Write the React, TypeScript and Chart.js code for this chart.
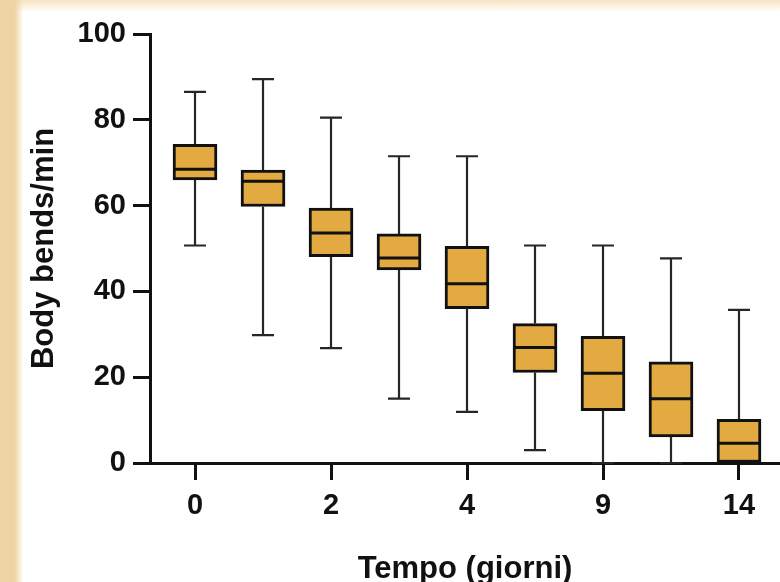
import React, { useEffect, useRef } from 'react';
import { Chart, registerables } from 'chart.js';

Chart.register(...registerables);

// Box positions along the x axis (one per time group)
const boxPositions = [0, 1, 2, 3, 4, 5, 6, 7, 8];
const whiskerMax = [86.5, 89.5, 80.5, 71.5, 71.5, 50.7, 50.7, 47.7, 35.7];
const q3 = [74.3, 68.3, 59.4, 53.4, 50.5, 32.5, 29.5, 23.6, 10.2];
const median = [68.5, 65.7, 53.6, 47.8, 41.8, 26.9, 20.9, 15.0, 4.6];
const q1 = [66.0, 59.8, 48.1, 45.0, 36.0, 21.1, 12.2, 6.1, 0];
const whiskerMin = [50.7, 29.8, 26.8, 15.0, 11.9, 3.0, 0, 0, 0];

// Labelled x ticks
const tickPositions = [0, 2, 4, 6, 8];
const tickLabels = ['0', '2', '4', '9', '14'];

const yTitle = 'Body bends/min';
const xTitle = 'Tempo (giorni)';

const FONT = "'Liberation Sans', Arial, Helvetica, sans-serif";
const BOX_FILL = '#e3aa41';
const INK = '#111111';

const boxPlugin = {
  id: 'boxWhiskers',
  afterDatasetsDraw(chart: any) {
    const { ctx, scales } = chart;
    const x = scales.x;
    const y = scales.y;
    ctx.save();
    boxPositions.forEach((p, i) => {
      const cx = x.getPixelForValue(p);
      const cap = 11;
      const half = 22;
      const yTop = y.getPixelForValue(whiskerMax[i]);
      const yQ3 = y.getPixelForValue(q3[i]);
      const yQ1 = y.getPixelForValue(q1[i]);
      const yBot = y.getPixelForValue(whiskerMin[i]);
      const yMed = y.getPixelForValue(median[i]);
      ctx.strokeStyle = '#262626';
      ctx.lineWidth = 2.2;
      ctx.lineCap = 'butt';
      ctx.beginPath();
      ctx.moveTo(cx, yQ3);
      ctx.lineTo(cx, yTop);
      ctx.moveTo(cx - cap, yTop);
      ctx.lineTo(cx + cap, yTop);
      if (whiskerMin[i] < q1[i]) {
        ctx.moveTo(cx, yQ1);
        ctx.lineTo(cx, yBot);
        ctx.moveTo(cx - cap, yBot);
        ctx.lineTo(cx + cap, yBot);
      }
      ctx.stroke();
      ctx.strokeStyle = INK;
      ctx.lineWidth = 3;
      ctx.beginPath();
      ctx.moveTo(cx - half + 1.5, yMed);
      ctx.lineTo(cx + half - 1.5, yMed);
      ctx.stroke();
    });
    ctx.restore();
  },
};

export default function App() {
  const canvasRef = useRef<HTMLCanvasElement | null>(null);

  useEffect(() => {
    if (!canvasRef.current) return;
    const chart = new Chart(canvasRef.current, {
      type: 'bar',
      data: {
        datasets: [
          {
            data: boxPositions.map((p, i) => ({ x: p, y: [q1[i], q3[i]] })) as any,
            backgroundColor: BOX_FILL,
            borderColor: INK,
            borderWidth: 3,
            borderSkipped: false,
            barThickness: 44,
          } as any,
        ],
      },
      options: {
        animation: false,
        responsive: false,
        indexAxis: 'x',
        layout: { padding: { top: 34, left: 0, right: 0, bottom: 0 } },
        plugins: {
          legend: { display: false },
          tooltip: { enabled: false },
        },
        scales: {
          x: {
            type: 'linear',
            min: -0.662,
            max: 8.603,
            offset: false,
            afterBuildTicks: (scale: any) => {
              scale.ticks = tickPositions.map((v) => ({ value: v }));
            },
            afterFit: (scale: any) => {
              scale.height = 119;
            },
            ticks: {
              autoSkip: false,
              maxRotation: 0,
              padding: 9,
              color: INK,
              font: { family: FONT, size: 29, weight: 'bold' },
              callback: (value: any) => {
                const idx = tickPositions.indexOf(Number(value));
                return idx >= 0 ? tickLabels[idx] : '';
              },
            },
            grid: {
              display: true,
              offset: false,
              drawOnChartArea: false,
              drawTicks: true,
              tickLength: 17,
              tickWidth: 3,
              color: INK,
            },
            border: { display: true, color: INK, width: 3 },
            title: {
              display: true,
              text: xTitle,
              color: INK,
              font: { family: FONT, size: 31, weight: 'bold' },
              padding: { top: 0, bottom: -6 },
            },
          } as any,
          y: {
            type: 'linear',
            min: 0,
            max: 100,
            afterFit: (scale: any) => {
              scale.width = 150;
            },
            ticks: {
              stepSize: 20,
              padding: 7,
              color: INK,
              font: { family: FONT, size: 29, weight: 'bold' },
            },
            grid: {
              display: true,
              drawOnChartArea: false,
              drawTicks: true,
              tickLength: 17,
              tickWidth: 3,
              color: INK,
            },
            border: { display: true, color: INK, width: 3 },
            title: {
              display: true,
              text: yTitle,
              color: INK,
              font: { family: FONT, size: 31, weight: 'bold' },
              padding: { top: 26, bottom: 0 },
            },
          } as any,
        },
      },
      plugins: [boxPlugin],
    } as any);
    return () => chart.destroy();
  }, []);

  return (
    <div
      style={{
        position: 'fixed',
        left: 0,
        top: 0,
        width: 780,
        height: 582,
        overflow: 'hidden',
        background:
          'linear-gradient(to right, #efd5a3 0px, #efd5a3 15px, rgba(255,255,255,0) 23px), linear-gradient(to bottom, #f7e3c0 0px, rgba(255,255,255,0) 12px), #ffffff',
      }}
    >
      <canvas ref={canvasRef} width={780} height={582} style={{ display: 'block' }} />
    </div>
  );
}
